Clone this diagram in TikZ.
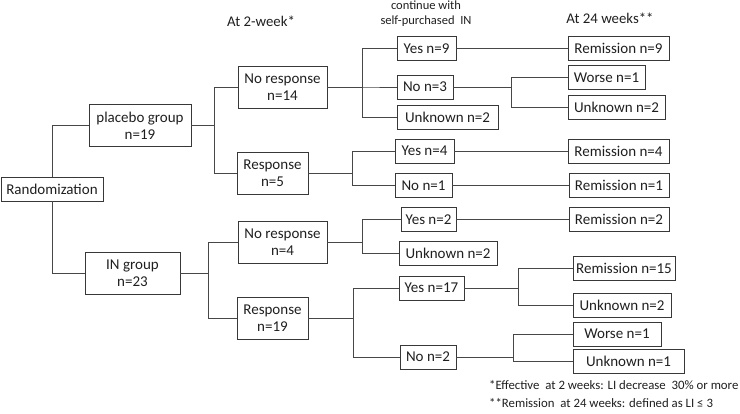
\documentclass[tikz,border=0pt]{standalone}
\usepackage{fontspec}
\setmainfont{Carlito}
\usepackage{tikz}
\usetikzlibrary{positioning}

\begin{document}
\begin{tikzpicture}[
  x=1pt,
  y=-1pt,
  box/.style={draw=black!78, line width=0.8pt, align=center, inner sep=1pt,
    font=\fontsize{15}{17}\selectfont, text=black!88},
  twoline/.style={box, minimum height=42pt},
  oneline/.style={box, minimum height=24pt},
  heading/.style={font=\fontsize{14.8}{16}\selectfont, text=black!88},
  smallhead/.style={font=\fontsize{12.5}{14}\selectfont, text=black!88},
  note/.style={font=\fontsize{12.8}{14}\selectfont, text=black!88, anchor=west, inner sep=0pt},
  link/.style={draw=black!72, line width=0.8pt}
]
\useasboundingbox (0,0) rectangle (740,414);

% column headings
\node[heading] (head2wk) at (261,21) {At 2-week*};
\node[smallhead] (headcont1) at (426,5) {continue with};
\node[smallhead] (headcont2) at (426,21) {self-purchased\ \ IN};
\node[heading] (head24wk) at (610,18) {At 24 weeks**};

% groups
\node[oneline, minimum width=102pt] (rand) at (52,189) {Randomization};
\node[twoline, minimum width=102pt] (placebo) at (140,125.5) {placebo group\\n=19};
\node[twoline, minimum width=95pt] (ingrp) at (132.5,273.5) {IN group\\n=23};

% at 2 weeks
\node[twoline, minimum width=89pt] (pnores) at (282.5,87) {No response\\n=14};
\node[twoline, minimum width=71pt] (pres) at (272.5,173) {Response\\n=5};
\node[twoline, minimum width=89pt] (inores) at (282.5,242) {No response\\n=4};
\node[twoline, minimum width=71pt] (ires) at (272.5,318) {Response\\n=19};

% continue with self-purchased IN
\node[oneline, minimum width=59pt] (pnyes) at (426.5,48.5) {Yes n=9};
\node[oneline, minimum width=56pt] (pnno) at (425,87) {No n=3};
\node[oneline, minimum width=101pt] (pnunk) at (447.5,117) {Unknown n=2};
\node[oneline, minimum width=59pt] (pryes) at (424.5,151) {Yes n=4};
\node[oneline, minimum width=57pt] (prno) at (423.5,185.5) {No n=1};
\node[oneline, minimum width=55pt] (inyes) at (428.5,219.5) {Yes n=2};
\node[oneline, minimum width=98pt] (inunk) at (448,253) {Unknown n=2};
\node[oneline, minimum width=65pt] (iryes) at (431.5,288) {Yes n=17};
\node[oneline, minimum width=56pt] (irno) at (428,357) {No n=2};

% at 24 weeks
\node[oneline, minimum width=101pt] (pnyesrem) at (618.5,48.5) {Remission n=9};
\node[oneline, minimum width=77pt] (pnnowor) at (606.5,77.5) {Worse n=1};
\node[oneline, minimum width=97pt] (pnnounk) at (616.5,107.5) {Unknown n=2};
\node[oneline, minimum width=101pt] (pryesrem) at (618.5,151) {Remission n=4};
\node[oneline, minimum width=100pt] (prnorem) at (619,185.5) {Remission n=1};
\node[oneline, minimum width=100pt] (inyesrem) at (619,219.5) {Remission n=2};
\node[oneline, minimum width=102pt] (iryesrem) at (624,268.5) {Remission n=15};
\node[oneline, minimum width=98pt] (iryesunk) at (622,305.5) {Unknown n=2};
\node[oneline, minimum width=88pt] (irnowor) at (617,334) {Worse n=1};
\node[oneline, minimum width=111pt] (irnounk) at (628.5,361) {Unknown n=1};

% connectors
\draw[link] (rand.north) |- (placebo.west);
\draw[link] (rand.south) |- (ingrp.west);
\foreach \a/\b/\d in {placebo/pnores/23, placebo/pres/23, ingrp/inores/28, ingrp/ires/28,
  pnores/pnyes/35, pnores/pnno/35, pnores/pnunk/35, pres/pryes/44, pres/prno/44,
  inores/inyes/35, inores/inunk/35, ires/iryes/45, ires/irno/45,
  pnno/pnnowor/58, pnno/pnnounk/58, iryes/iryesrem/54, iryes/iryesunk/54,
  irno/irnowor/57, irno/irnounk/57} {
  \draw[link] (\a.east) -- ++(\d,0) |- (\b.west);
}
\foreach \a/\b in {pnyes/pnyesrem, pryes/pryesrem, prno/prnorem, inyes/inyesrem} {
  \draw[link] (\a.east) -- (\b.west);
}

% footnotes
\node[note] (note1) at (489,385) {*Effective\ \ at 2 weeks: LI decrease\ \ 30\% or more};
\node[note] (note2) at (489,403) {**Remission\ \ at 24 weeks: defined as LI ≤ 3};
\end{tikzpicture}
\end{document}
